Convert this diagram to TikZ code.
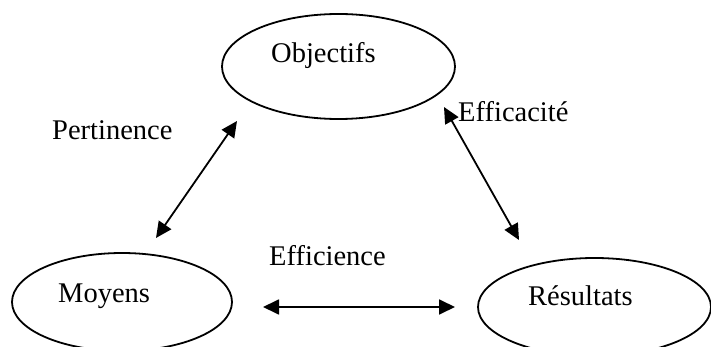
\documentclass[tikz,border=0pt]{standalone}
\usepackage{fontspec}
\setmainfont{Liberation Serif}
\usetikzlibrary{shapes.geometric,arrows.meta}
\tikzset{
  oval/.style={draw=black, line width=1.8pt, ellipse, inner sep=0pt},
  lbl/.style={inner sep=0pt, anchor=base west, font=\fontsize{28.5}{30}\selectfont},
  dblarrow/.style={line width=1.8pt, {Triangle[length=16pt,width=15pt]}-{Triangle[length=16pt,width=15pt]}}
}
\begin{document}
\begin{tikzpicture}[x=1pt,y=-1pt]
\useasboundingbox (0,0) rectangle (711,347);
\clip (0,0) rectangle (711,347);
\node[oval, minimum width=233pt, minimum height=105pt] (obj) at (338.5,66.5) {};
\node[oval, minimum width=220pt, minimum height=98pt] (moy) at (122,302) {};
\node[oval, minimum width=233pt, minimum height=98pt] (res) at (594.5,307) {};
\node[lbl] (objt) at (271,63) {Objectifs};
\node[lbl] (moyt) at (58,302) {Moyens};
\node[lbl] (rest) at (528,305) {Résultats};
\node[lbl] (pert) at (52,140) {Pertinence};
\node[lbl] (effa) at (458,122) {Efficacité};
\node[lbl] (effi) at (269,265) {Efficience};
\coordinate (p1) at (237,121);
\coordinate (p2) at (156,238);
\coordinate (e1) at (444,107);
\coordinate (e2) at (519,240);
\coordinate (f1) at (263,307);
\coordinate (f2) at (455,307);
\draw[dblarrow] (p2) -- (p1);
\draw[dblarrow] (e1) -- (e2);
\draw[dblarrow] (f1) -- (f2);
\end{tikzpicture}
\end{document}
